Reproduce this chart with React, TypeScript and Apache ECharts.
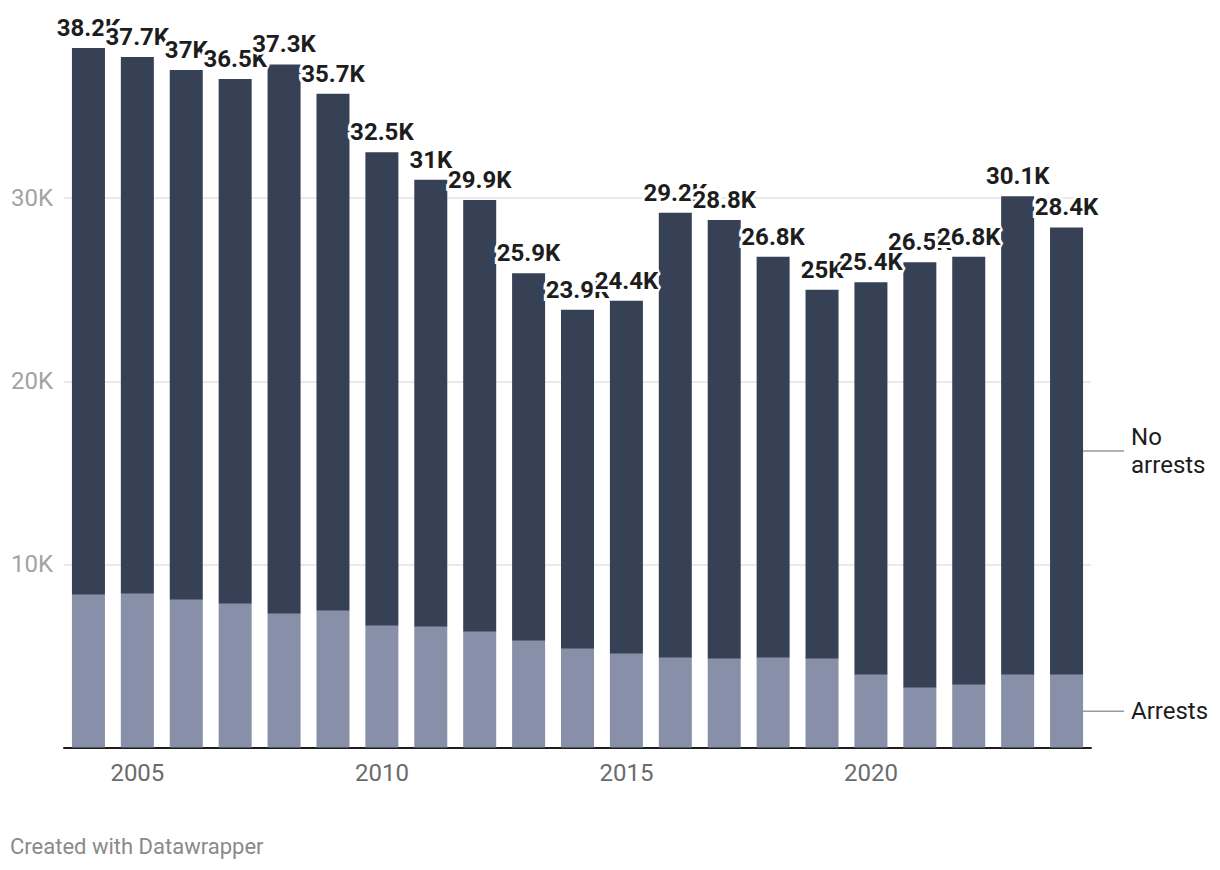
import React, { useEffect, useRef } from "react";
import * as echarts from "echarts";

const years = [
  "2004", "2005", "2006", "2007", "2008", "2009", "2010", "2011", "2012", "2013", "2014",
  "2015", "2016", "2017", "2018", "2019", "2020", "2021", "2022", "2023", "2024",
];
const totals = [
  38200, 37700, 37000, 36500, 37300, 35700, 32500, 31000, 29900, 25900, 23900,
  24400, 29200, 28800, 26800, 25000, 25400, 26500, 26800, 30100, 28400,
];
const arrests = [
  8340, 8400, 8070, 7850, 7310, 7470, 6650, 6600, 6320, 5830, 5390,
  5120, 4900, 4850, 4900, 4850, 3970, 3260, 3430, 3970, 3970,
];
const noArrests = totals.map((t, i) => t - arrests[i]);
const seriesNames = ["Arrests", "No arrests"];
const legendTexts = ["Arrests", "No\narrests"];
const yMax = 40000;
const yStep = 10000;
const footer = "Created with Datawrapper";

const DARK = "#374155";
const LIGHT = "#8790a8";
const FONT = "Roboto";

function fmtK(v: number): string {
  const k = Math.round(v / 100) / 10;
  return k + "K";
}

export default function App() {
  const ref = useRef<HTMLDivElement>(null);
  useEffect(() => {
    const chart = echarts.init(ref.current!, null, { renderer: "svg" });
    const option: any = {
      animation: false,
      backgroundColor: "#ffffff",
      grid: { left: 64, right: 129, top: 15, bottom: 122.5, containLabel: false },
      xAxis: {
        type: "category",
        data: years,
        axisLine: { lineStyle: { color: "#1d1d1d", width: 2 } },
        axisTick: { show: false },
        axisLabel: {
          interval: (i: number, v: string) => Number(v) % 5 === 0,
          color: "#6b6b6b",
          fontSize: 24,
          fontFamily: FONT,
          margin: 13,
        },
      },
      yAxis: {
        type: "value",
        min: 0,
        max: yMax,
        interval: yStep,
        axisLine: { show: false },
        axisTick: { show: false },
        splitLine: {
          lineStyle: {
            color: ["#e3e3e3", "#e3e3e3", "#e3e3e3", "#e3e3e3", "rgba(0,0,0,0)"],
            width: 1.5,
          },
        },
        axisLabel: {
          formatter: (v: number) => (v === 0 || v === yMax ? "" : v / 1000 + "K"),
          color: "#a3a3a3",
          fontSize: 24,
          fontFamily: FONT,
          margin: 11,
        },
      },
      series: [
        {
          name: seriesNames[0],
          type: "bar",
          stack: "total",
          data: arrests,
          barCategoryGap: "32.5%",
          itemStyle: { color: LIGHT },
        },
        {
          name: seriesNames[1],
          type: "bar",
          stack: "total",
          data: noArrests,
          itemStyle: { color: DARK },
          label: {
            show: true,
            position: "top",
            distance: 8,
            formatter: (p: any) => fmtK(totals[p.dataIndex]),
            fontFamily: FONT,
            fontWeight: "bold",
            fontSize: 24,
            color: "#1d1d1d",
            textBorderColor: "#ffffff",
            textBorderWidth: 6,
          },
        },
      ],
    };
    chart.setOption(option);

    const last = years.length - 1;
    const x0 = chart.convertToPixel({ xAxisIndex: 0 }, years[0]) as number;
    const x1 = chart.convertToPixel({ xAxisIndex: 0 }, years[1]) as number;
    const xl = chart.convertToPixel({ xAxisIndex: 0 }, years[last]) as number;
    const barRight = xl + ((x1 - x0) * 0.675) / 2;
    const yA = chart.convertToPixel({ yAxisIndex: 0 }, arrests[last] / 2) as number;
    const yN = chart.convertToPixel(
      { yAxisIndex: 0 },
      (arrests[last] + totals[last]) / 2
    ) as number;
    const mids = [yA, yN];
    const graphics: any[] = [];
    mids.forEach((y, i) => {
      graphics.push({
        type: "line",
        shape: { x1: barRight, y1: y, x2: barRight + 41, y2: y },
        style: { stroke: "#9a9a9a", lineWidth: 1.5 },
      });
      graphics.push({
        type: "text",
        x: barRight + 48,
        y: y,
        style: {
          text: legendTexts[i],
          fill: "#1d1d1d",
          fontSize: 24,
          fontFamily: FONT,
          lineHeight: 28,
          align: "left",
          verticalAlign: "middle",
        },
      });
    });
    graphics.push({
      type: "text",
      left: 10,
      top: 835,
      style: { text: footer, fill: "#8a8a8a", fontSize: 22, fontFamily: FONT },
    });
    chart.setOption({ graphic: graphics });

    return () => chart.dispose();
  }, []);
  return (
    <div
      ref={ref}
      style={{ position: "fixed", left: 0, top: 0, width: 1220, height: 870, background: "#fff" }}
    />
  );
}
